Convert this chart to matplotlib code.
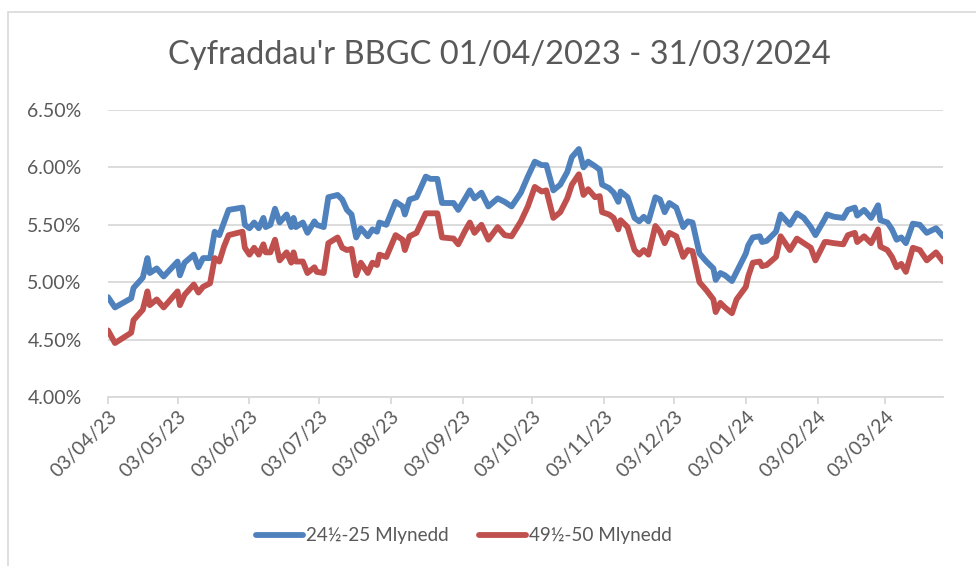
import matplotlib
matplotlib.use("Agg")
import matplotlib.pyplot as plt
import matplotlib.dates as mdates
from matplotlib.patches import Rectangle
from matplotlib.ticker import FuncFormatter
import pandas as pd

# dyddiadau (dd/mm/yy) a chyfraddau (%) wedi'u darllen oddi ar y siart
dates = [
    "03/04/23", "06/04/23", "13/04/23", "14/04/23", "18/04/23", "20/04/23", "21/04/23",
    "24/04/23", "27/04/23", "03/05/23", "04/05/23", "06/05/23", "10/05/23", "12/05/23",
    "14/05/23", "17/05/23", "19/05/23", "21/05/23", "23/05/23", "25/05/23", "31/05/23",
    "01/06/23", "03/06/23", "05/06/23", "07/06/23", "09/06/23", "10/06/23", "12/06/23",
    "14/06/23", "16/06/23", "19/06/23", "21/06/23", "22/06/23", "23/06/23", "26/06/23",
    "28/06/23", "01/07/23", "02/07/23", "05/07/23", "07/07/23", "11/07/23", "13/07/23",
    "15/07/23", "17/07/23", "19/07/23", "21/07/23", "24/07/23", "26/07/23", "28/07/23",
    "29/07/23", "01/08/23", "05/08/23", "08/08/23", "09/08/23", "11/08/23", "14/08/23",
    "18/08/23", "20/08/23", "23/08/23", "25/08/23", "30/08/23", "01/09/23", "04/09/23",
    "06/09/23", "08/09/23", "11/09/23", "14/09/23", "18/09/23", "21/09/23", "24/09/23",
    "28/09/23", "01/10/23", "04/10/23", "07/10/23", "09/10/23", "12/10/23", "15/10/23",
    "18/10/23", "20/10/23", "23/10/23", "25/10/23", "27/10/23", "30/10/23", "01/11/23",
    "02/11/23", "05/11/23", "07/11/23", "09/11/23", "10/11/23", "13/11/23", "16/11/23",
    "18/11/23", "20/11/23", "22/11/23", "25/11/23", "27/11/23", "29/11/23", "01/12/23",
    "04/12/23", "07/12/23", "09/12/23", "11/12/23", "14/12/23", "17/12/23", "20/12/23",
    "21/12/23", "23/12/23", "25/12/23", "28/12/23", "30/12/23", "03/01/24", "04/01/24",
    "06/01/24", "09/01/24", "10/01/24", "12/01/24", "16/01/24", "18/01/24", "22/01/24",
    "25/01/24", "28/01/24", "31/01/24", "02/02/24", "06/02/24", "07/02/24", "10/02/24",
    "14/02/24", "16/02/24", "19/02/24", "20/02/24", "23/02/24", "26/02/24", "29/02/24",
    "01/03/24", "04/03/24", "06/03/24", "08/03/24", "10/03/24", "12/03/24", "15/03/24",
    "18/03/24", "21/03/24", "25/03/24", "28/03/24",
]

rate_25 = [
    4.87, 4.78, 4.86, 4.95, 5.04, 5.21, 5.08,
    5.12, 5.05, 5.18, 5.06, 5.17, 5.24, 5.13,
    5.21, 5.21, 5.44, 5.41, 5.52, 5.63, 5.65,
    5.50, 5.47, 5.52, 5.47, 5.56, 5.48, 5.50,
    5.64, 5.52, 5.59, 5.48, 5.56, 5.48, 5.52,
    5.43, 5.53, 5.50, 5.48, 5.74, 5.76, 5.72,
    5.63, 5.59, 5.39, 5.47, 5.40, 5.46, 5.44,
    5.52, 5.50, 5.70, 5.66, 5.59, 5.72, 5.74,
    5.92, 5.90, 5.90, 5.69, 5.69, 5.63, 5.73,
    5.80, 5.73, 5.78, 5.66, 5.73, 5.70, 5.66,
    5.78, 5.92, 6.05, 6.02, 6.02, 5.80, 5.85,
    5.96, 6.09, 6.16, 6.00, 6.05, 6.01, 5.98,
    5.85, 5.82, 5.78, 5.70, 5.79, 5.74, 5.56,
    5.53, 5.57, 5.53, 5.74, 5.72, 5.61, 5.69,
    5.65, 5.48, 5.53, 5.52, 5.25, 5.18, 5.12,
    5.02, 5.08, 5.06, 5.01, 5.09, 5.25, 5.32,
    5.39, 5.40, 5.35, 5.36, 5.44, 5.59, 5.50,
    5.60, 5.56, 5.48, 5.41, 5.55, 5.59, 5.57,
    5.56, 5.63, 5.65, 5.58, 5.63, 5.56, 5.67,
    5.54, 5.52, 5.46, 5.37, 5.39, 5.34, 5.51,
    5.50, 5.43, 5.47, 5.40,
]

rate_50 = [
    4.58, 4.47, 4.56, 4.67, 4.76, 4.92, 4.80,
    4.85, 4.78, 4.92, 4.80, 4.89, 4.98, 4.91,
    4.96, 4.99, 5.21, 5.18, 5.31, 5.41, 5.44,
    5.30, 5.24, 5.30, 5.24, 5.33, 5.26, 5.26,
    5.37, 5.19, 5.26, 5.17, 5.26, 5.18, 5.18,
    5.08, 5.13, 5.09, 5.08, 5.34, 5.39, 5.30,
    5.28, 5.29, 5.06, 5.17, 5.08, 5.17, 5.15,
    5.24, 5.22, 5.41, 5.37, 5.28, 5.40, 5.43,
    5.60, 5.60, 5.60, 5.39, 5.38, 5.33, 5.45,
    5.52, 5.43, 5.50, 5.37, 5.48, 5.41, 5.40,
    5.53, 5.66, 5.83, 5.79, 5.80, 5.56, 5.61,
    5.73, 5.85, 5.94, 5.76, 5.81, 5.74, 5.75,
    5.61, 5.59, 5.56, 5.46, 5.54, 5.48, 5.28,
    5.24, 5.28, 5.24, 5.49, 5.44, 5.34, 5.43,
    5.40, 5.22, 5.28, 5.27, 5.00, 4.93, 4.85,
    4.74, 4.82, 4.78, 4.73, 4.85, 4.96, 5.05,
    5.17, 5.18, 5.14, 5.15, 5.22, 5.40, 5.28,
    5.38, 5.34, 5.30, 5.19, 5.35, 5.35, 5.34,
    5.33, 5.41, 5.43, 5.35, 5.40, 5.34, 5.46,
    5.31, 5.28, 5.22, 5.13, 5.16, 5.09, 5.30,
    5.28, 5.19, 5.26, 5.18,
]

series_names = ["24½-25 Mlynedd", "49½-50 Mlynedd"]
title = "Cyfraddau'r BBGC 01/04/2023 - 31/03/2024"

x = pd.to_datetime(dates, format="%d/%m/%y")
grey_text = "#595959"
grid_grey = "#d9d9d9"

plt.rcParams["font.family"] = ["Lato", "DejaVu Sans"]

fig = plt.figure(figsize=(9.76, 5.66), dpi=100)
ax = fig.add_axes([108 / 976, 1 - 397 / 566, (943 - 108) / 976, (397 - 110) / 566])

# frame round the chart
fig.patches.append(Rectangle((8 / 976, -0.05), 1.1, 1 - 12 / 566 + 0.05,
                             transform=fig.transFigure, fill=False,
                             edgecolor="#d9d9d9", linewidth=1.2))

ax.plot(x, rate_25, color="#4f81bd", linewidth=4.2, solid_joinstyle="round",
        solid_capstyle="round", label=series_names[0])
ax.plot(x, rate_50, color="#c0504d", linewidth=4.2, solid_joinstyle="round",
        solid_capstyle="round", label=series_names[1])

ax.set_ylim(4.0, 6.5)
ax.set_yticks([4.0, 4.5, 5.0, 5.5, 6.0, 6.5])
ax.yaxis.set_major_formatter(FuncFormatter(lambda v, p: "%.2f%%" % v))
ax.set_xlim(x[0], x[-1])
ax.xaxis.set_major_locator(mdates.MonthLocator(bymonthday=3))
ax.xaxis.set_major_formatter(mdates.DateFormatter("%d/%m/%y"))

ax.grid(axis="y", color=grid_grey, linewidth=1.3)
ax.set_axisbelow(True)
for side in ["left", "right", "top"]:
    ax.spines[side].set_visible(False)
ax.spines["bottom"].set_color(grid_grey)
ax.spines["bottom"].set_linewidth(1.3)
ax.tick_params(axis="y", length=0, pad=19, labelsize=14, labelcolor=grey_text)
ax.tick_params(axis="x", length=5, width=1.3, color=grid_grey, direction="out",
               labelsize=14, labelcolor=grey_text, pad=3)
for lab in ax.get_xticklabels():
    lab.set_rotation(45)
    lab.set_ha("right")
    lab.set_rotation_mode("anchor")

fig.text(499 / 976, 1 - 55 / 566, title, ha="center", va="center", fontsize=23.5,
         color=grey_text)

fig.legend(loc="center", bbox_to_anchor=(464 / 976, 1 - 536 / 566), ncol=2, frameon=False,
           fontsize=13.6, labelcolor=grey_text, handlelength=2.5, handletextpad=0.15,
           columnspacing=1.6)

fig.savefig("out.png", dpi=100)
